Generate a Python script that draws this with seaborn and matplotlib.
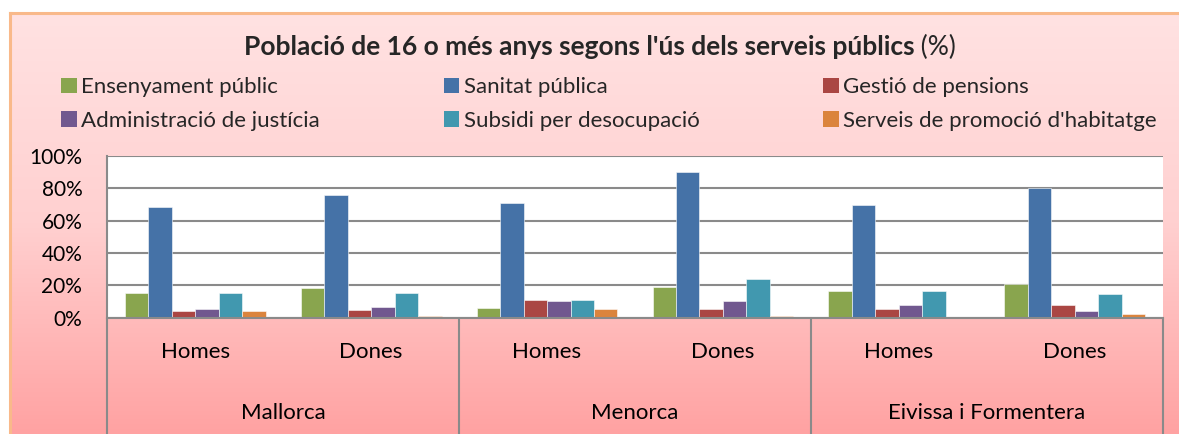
import numpy as np
import pandas as pd
import matplotlib
matplotlib.use("Agg")
import matplotlib.pyplot as plt
import seaborn as sns
from matplotlib.ticker import PercentFormatter, FixedLocator
from matplotlib.colors import LinearSegmentedColormap

# ---------------- data ----------------
islands = ["Mallorca", "Menorca", "Eivissa i Formentera"]
sexes = ["Homes", "Dones"]
services = ["Ensenyament públic", "Sanitat pública", "Gestió de pensions",
            "Administració de justícia", "Subsidi per desocupació",
            "Serveis de promoció d'habitatge"]
# order: Mallorca H, Mallorca D, Menorca H, Menorca D, Eivissa H, Eivissa D
ensenyament = [15.1, 18.4, 6.0, 19.2, 16.5, 20.8]
sanitat = [68.3, 75.7, 70.9, 89.9, 69.7, 80.4]
pensions = [4.0, 4.8, 10.9, 5.4, 5.2, 7.6]
justicia = [5.2, 6.8, 10.3, 10.3, 7.8, 4.3]
subsidi = [15.1, 15.1, 11.1, 24.1, 16.5, 14.6]
habitatge = [4.0, 1.2, 5.6, 1.0, 0.0, 2.1]
yticks = [0, 20, 40, 60, 80, 100]
title_bold = "Població de 16 o més anys segons l'ús dels serveis públics"
title_rest = " (%)"

colors = ["#89A54E", "#4572A7", "#AA4643", "#71588F", "#4198AF", "#DB843D"]

series = [ensenyament, sanitat, pensions, justicia, subsidi, habitatge]
cats = [f"{i}|{s}" for i in islands for s in sexes]
rows = []
for svc, vals in zip(services, series):
    for c, v in zip(cats, vals):
        rows.append({"cat": c, "service": svc, "value": v})
df = pd.DataFrame(rows)

# ---------------- figure ----------------
sns.set_theme(style="white")
FONT = ["Lato", "DejaVu Sans"]
plt.rcParams["font.family"] = FONT

W, H = 1179, 434
fig = plt.figure(figsize=(W / 100, H / 100), dpi=100)
fig.patch.set_facecolor("white")

def fx(px):
    return px / W

def fy(py):
    return 1 - py / H

# background chart area with gradient and orange border
bg = fig.add_axes([fx(10), 0, fx(1179 - 10) + 0.01, fy(13)], zorder=-5)
cmap = LinearSegmentedColormap.from_list("pinkgrad", ["#FFE2E2", "#FFD0D0", "#FFA2A2"])
grad = np.linspace(0, 1, 256).reshape(-1, 1)
bg.imshow(grad, aspect="auto", cmap=cmap, extent=[0, 1, 0, 1], origin="upper")
bg.set_xlim(0, 1)
bg.set_ylim(0, 1)
bg.set_xticks([])
bg.set_yticks([])
for side, sp in bg.spines.items():
    if side in ("top", "left"):
        sp.set_visible(True)
        sp.set_color("#F9B98A")
        sp.set_linewidth(2.2)
    else:
        sp.set_visible(False)

# main plot area
left, right, top, bottom = 107.3, 1162.7, 156, 317.7
ax = fig.add_axes([fx(left), fy(bottom), fx(right - left), (bottom - top) / H])
ax.set_facecolor("white")

sns.barplot(data=df, x="cat", y="value", hue="service", order=cats,
            hue_order=services, palette=colors, saturation=1, width=0.8,
            edgecolor=(1, 1, 1, 0.55), linewidth=0.7, ax=ax, legend=False)

ax.set_xlim(-0.5, len(cats) - 0.5)
ax.set_ylim(0, 100)
ax.yaxis.set_major_locator(FixedLocator(yticks))
ax.yaxis.set_major_formatter(PercentFormatter(decimals=0))
ax.yaxis.grid(True, color="#8A8A8A", linewidth=1.5)
ax.set_axisbelow(True)
ax.set_xlabel("")
ax.set_ylabel("")
ax.set_xticks([])
ax.tick_params(axis="y", length=0, pad=18, labelsize=15, colors="black")
for lab in ax.get_yticklabels():
    lab.set_family(FONT)
for side in ("top", "right"):
    ax.spines[side].set_visible(False)
for side in ("left", "bottom"):
    ax.spines[side].set_color("#8A8A8A")
    ax.spines[side].set_linewidth(1.5)

# multi-level category axis
trans = ax.get_xaxis_transform()
axh = bottom - top
def ay(py):
    return (bottom - py) / axh

LS = 16
for k, c in enumerate(cats):
    ax.text(k, ay(352), c.split("|")[1], transform=trans, ha="center", va="center",
            fontsize=LS, color="black", family=FONT)
for g, isl in enumerate(islands):
    ax.text(2 * g + 0.5, ay(413), isl, transform=trans, ha="center", va="center",
            fontsize=LS, color="black", family=FONT)
for xb in [-0.5, 1.5, 3.5, 5.5]:
    ax.plot([xb, xb], [0, ay(440)], transform=trans, color="#8A8A8A",
            linewidth=1.5, clip_on=False)

# legend
handles = [plt.Rectangle((0, 0), 1, 1, facecolor=col, edgecolor="none") for col in colors]
order = [0, 3, 1, 4, 2, 5]
leg = fig.legend([handles[i] for i in order], [services[i] for i in order],
                 ncol=3, loc="center left", bbox_to_anchor=(fx(41), fy(104)),
                 frameon=False, handlelength=0.7, handleheight=0.7,
                 handletextpad=0.22, columnspacing=5.55, labelspacing=0.6,
                 prop={"family": FONT, "size": LS})

# title (bold part + normal part), centred as a whole
TS = 19
t1 = fig.text(0, fy(47), title_bold, fontsize=TS, fontweight="bold",
              ha="left", va="center", family=FONT)
t2 = fig.text(0, fy(47), title_rest, fontsize=TS, ha="left", va="center", family=FONT)
fig.canvas.draw()
r = fig.canvas.get_renderer()
w1 = t1.get_window_extent(r).width
w2 = t2.get_window_extent(r).width
x0 = 600 - (w1 + w2) / 2
t1.set_x(fx(x0))
t2.set_x(fx(x0 + w1))

fig.savefig("out.png", dpi=100, facecolor="white")
